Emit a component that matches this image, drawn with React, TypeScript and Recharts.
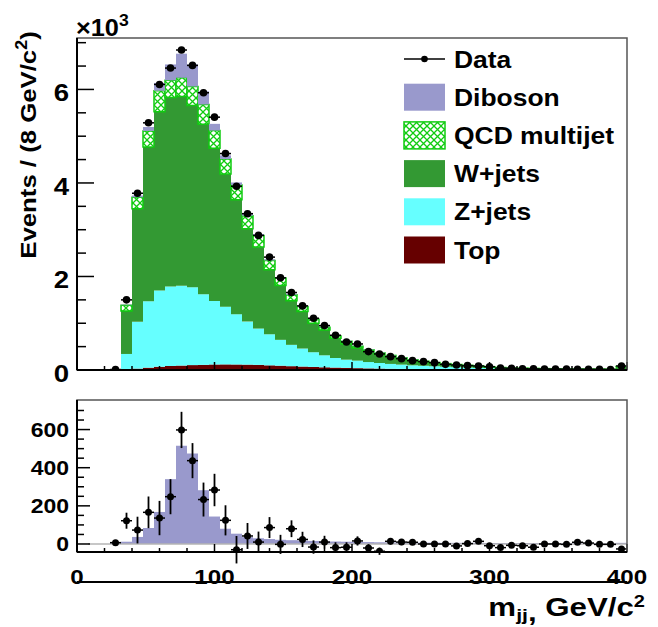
import React from 'react';
import { ComposedChart, Bar, Scatter, ErrorBar, XAxis, YAxis, ReferenceLine } from 'recharts';

// m_jj bin centres, 8 GeV bins from 0 to 400
const binCenter = [
  4, 12, 20, 28, 36, 44, 52, 60, 68, 76, 84, 92, 100, 108, 116, 124, 132, 140, 148, 156,
  164, 172, 180, 188, 196, 204, 212, 220, 228, 236, 244, 252, 260, 268, 276, 284, 292, 300, 308, 316,
  324, 332, 340, 348, 356, 364, 372, 380, 388, 396,
];
const halfBin = 4;

// stacked MC components (events / bin)
const topQuark = [
  0, 0, 0, 0, 10, 30, 50, 70, 85, 95, 105, 110, 118, 120, 118, 115, 110, 100, 92, 82,
  74, 66, 58, 52, 46, 40, 35, 31, 27, 23, 20, 17, 15, 13, 11, 10, 9, 8, 7, 6,
  5, 5, 4, 4, 4, 3, 3, 3, 3, 6,
];
const zJets = [
  0, 0, 0, 0, 333, 1000, 1420, 1630, 1700, 1705, 1665, 1510, 1360, 1235, 1075, 920, 776, 664, 553, 456,
  385, 314, 256, 205, 175, 160, 135, 119, 103, 92, 80, 73, 65, 57, 49, 42, 36, 32, 28, 24,
  21, 18, 16, 14, 12, 11, 9, 8, 7, 14,
];
const wJets = [
  0, 0, 0, 0, 921, 2421, 3300, 3821, 4040, 4050, 3886, 3636, 3264, 2835, 2450, 1985, 1743, 1379, 1164, 943,
  793, 621, 543, 422, 336, 270, 230, 190, 160, 130, 105, 85, 70, 58, 50, 42, 35, 22, 15, 12,
  10, 8, 7, 6, 5, 5, 5, 4, 3, 50,
];
const qcd = [
  0, 0, 0, 0, 122, 243, 343, 450, 370, 400, 407, 422, 378, 320, 314, 279, 250, 200, 157, 128,
  107, 86, 57, 50, 57, 40, 32, 26, 21, 17, 14, 12, 10, 8, 7, 6, 5, 4, 3, 3,
  2, 2, 2, 2, 2, 2, 2, 2, 2, 5,
];
const diboson = [
  0, 0, 0, 5, 12, 37, 84, 168, 340, 515, 474, 282, 144, 80, 54, 36, 30, 26, 22, 20,
  18, 16, 14, 13, 12, 11, 10, 9, 8, 8, 7, 7, 7, 6, 6, 6, 6, 5, 5, 5,
  5, 5, 5, 4, 4, 4, 4, 4, 4, 6,
];
const dataCounts = [
  null, null, null, 10, 1500, 3780, 5286, 6107, 6457, 6843, 6514, 5929, 5407, 4629, 3929, 3343, 2879, 2414, 1971, 1657,
  1371, 1107, 950, 743, 600, 557, 393, 343, 286, 243, 200, 179, 157, 121, 107, 93, 86, 71, 40, 36,
  28, 24, 22, 20, 18, 16, 15, 14, 12, 86,
];

// lower pad: data minus non-diboson background
const residual = [
  null, null, null, 7, 122, 73, 166, 136, 248, 598, 437, 233, 283, 124, -30, 42, 10, 86, -2, 80,
  24, -16, 10, -19, -17, 16, -21, -38, 14, 10, 9, 0, 0, 0, -10, 2, 14, -9, -19, -7,
  -9, -17, 0, 0, -2, 9, 5, -2, -2, -26,
];
const residualErr = [
  0, 0, 0, 5, 42, 70, 83, 90, 92, 95, 92, 89, 85, 79, 72, 68, 55, 55, 50, 44,
  40, 35, 33, 28, 26, 24, 20, 19, 17, 16, 14, 13, 12, 11, 10, 10, 9, 8, 6, 6,
  5, 5, 5, 4, 4, 4, 4, 4, 3, 9,
];

const xTicks = [0, 20, 40, 60, 80, 100, 120, 140, 160, 180, 200, 220, 240, 260, 280, 300, 320, 340, 360, 380, 400];
const yTicksTop = [0, 500, 1000, 1500, 2000, 2500, 3000, 3500, 4000, 4500, 5000, 5500, 6000, 6500, 7000];
const yTicksBot = [0, 50, 100, 150, 200, 250, 300, 350, 400, 450, 500, 550, 600, 650, 700];

const legendItems = [
  { name: 'Data', kind: 'data', color: '#000' },
  { name: 'Diboson', kind: 'box', color: '#9999cc' },
  { name: 'QCD multijet', kind: 'hatch', color: '#11cc11' },
  { name: 'W+jets', kind: 'box', color: '#339933' },
  { name: 'Z+jets', kind: 'box', color: '#66ffff' },
  { name: 'Top', kind: 'box', color: '#660000' },
];

const stackRows = binCenter.map((m, i) => ({
  m,
  top: topQuark[i],
  zjets: zJets[i],
  wjets: wJets[i],
  qcd: qcd[i],
  diboson: diboson[i],
}));
const dataRows = binCenter
  .map((m, i) => ({ m, n: dataCounts[i], xerr: halfBin }))
  .filter((r) => r.n !== null);
const residualRows = binCenter
  .map((m, i) => ({ m, r: residual[i], rerr: residualErr[i], xerr: halfBin }))
  .filter((r) => r.r !== null);

const FONT = '"Liberation Sans", Arial, Helvetica, sans-serif';
const SX = 1.15;
const W = 658;
const PL = 77;
const PR = 627;
// top pad (own svg coordinates = page coordinates)
const T_TOP = 38;
const T_BOT = 370;
const T_H = 392;
// bottom pad svg placed at page y = B_OFF
const B_OFF = 390;
const B_TOP = 10;
const B_BOT = 162;
const B_H = 237;

const Txt = ({ x, y, size, anchor = 'start', rotate = false, sx = SX, children }: any) => (
  <text
    transform={`translate(${x},${y})${rotate ? ' rotate(-90)' : ''} scale(${sx},1)`}
    textAnchor={anchor}
    fontSize={size}
    fontWeight="bold"
    fontFamily={FONT}
    fill="#000"
  >
    {children}
  </text>
);

const TopYTick = (props: any) => {
  const { y, payload } = props;
  const major = payload.value % 2000 === 0;
  return (
    <g>
      <line x1={PL} x2={PL + (major ? 17 : 9)} y1={y} y2={y} stroke="#000" strokeWidth={1.5} />
      {major && (
        <Txt x={PL - 8} y={y + 12} size={24} anchor="end">
          {payload.value / 1000}
        </Txt>
      )}
    </g>
  );
};

const BotYTick = (props: any) => {
  const { y, payload } = props;
  const major = payload.value % 200 === 0;
  return (
    <g>
      <line x1={PL} x2={PL + (major ? 13 : 7)} y1={y} y2={y} stroke="#000" strokeWidth={1.5} />
      {major && (
        <Txt x={PL - 8} y={y + 7.5} size={20} anchor="end">
          {payload.value}
        </Txt>
      )}
    </g>
  );
};

const xTick = (bottom: number, withLabel: boolean) => (props: any) => {
  const { x, payload } = props;
  const major = payload.value % 100 === 0;
  return (
    <g>
      <line x1={x} x2={x} y1={bottom} y2={bottom - (major ? 8 : 4)} stroke="#000" strokeWidth={1.5} />
      {withLabel && major && (
        <Txt x={x} y={194} size={21} anchor="middle">
          {payload.value}
        </Txt>
      )}
    </g>
  );
};

const dot = (r: number) => (props: any) => <circle cx={props.cx} cy={props.cy} r={r} fill="#000" />;

const Legend = () => (
  <g>
    {legendItems.map((it, i) => {
      const cy = 59 + i * 38.2;
      return (
        <g key={it.name}>
          {it.kind === 'data' && (
            <g>
              <line x1={404} x2={445} y1={cy} y2={cy} stroke="#000" strokeWidth={1.5} />
              <circle cx={424.5} cy={cy} r={3.3} fill="#000" />
            </g>
          )}
          {it.kind === 'box' && <rect x={404} y={cy - 13.5} width={41} height={27} fill={it.color} />}
          {it.kind === 'hatch' && (
            <rect x={404} y={cy - 13.5} width={41} height={27} fill="url(#qcdHatch)" stroke={it.color} strokeWidth={1.5} />
          )}
          <Txt x={454} y={cy + 8.5} size={23}>
            {it.name}
          </Txt>
        </g>
      );
    })}
  </g>
);

export default function App() {
  return (
    <div style={{ position: 'absolute', left: 0, top: 0, width: W, height: 627, background: '#fff', overflow: 'hidden' }}>
      <svg width={0} height={0} style={{ position: 'absolute' }}>
        <defs>
          <pattern id="qcdHatch" patternUnits="userSpaceOnUse" width={7} height={7}>
            <rect width={7} height={7} fill="#fff" />
            <path d="M0,0 L7,7 M7,0 L0,7" stroke="#11cc11" strokeWidth={1.3} />
          </pattern>
        </defs>
      </svg>

      <div style={{ position: 'absolute', left: 0, top: 0 }}>
        <ComposedChart
          width={W}
          height={T_H}
          data={stackRows}
          margin={{ top: T_TOP, right: W - PR, bottom: 0, left: 0 }}
          barCategoryGap={0}
          barGap={0}
        >
          <XAxis xAxisId="cat" dataKey="m" type="category" hide />
          <XAxis
            xAxisId="num"
            dataKey="m"
            type="number"
            domain={[0, 400]}
            allowDataOverflow
            ticks={xTicks}
            interval={0}
            tickLine={false}
            tick={xTick(T_BOT, false)}
            axisLine={{ stroke: '#000', strokeWidth: 2 }}
            height={T_H - T_BOT}
          />
          <YAxis
            type="number"
            domain={[0, 7100]}
            allowDataOverflow
            ticks={yTicksTop}
            interval={0}
            tickLine={false}
            tick={TopYTick}
            axisLine={{ stroke: '#000', strokeWidth: 2 }}
            width={PL}
          />
          <Bar xAxisId="cat" dataKey="top" stackId="s" fill="#660000" isAnimationActive={false} />
          <Bar xAxisId="cat" dataKey="zjets" stackId="s" fill="#66ffff" isAnimationActive={false} />
          <Bar xAxisId="cat" dataKey="wjets" stackId="s" fill="#339933" isAnimationActive={false} />
          <Bar xAxisId="cat" dataKey="qcd" stackId="s" fill="url(#qcdHatch)" stroke="#11cc11" strokeWidth={1.5} isAnimationActive={false} />
          <Bar xAxisId="cat" dataKey="diboson" stackId="s" fill="#9999cc" isAnimationActive={false} />
          <Scatter xAxisId="num" data={dataRows} dataKey="n" shape={dot(3.8)} isAnimationActive={false}>
            <ErrorBar dataKey="xerr" direction="x" width={0} stroke="#000" strokeWidth={1.5} />
          </Scatter>
        </ComposedChart>
      </div>

      <div style={{ position: 'absolute', left: 0, top: B_OFF }}>
        <ComposedChart
          width={W}
          height={B_H}
          data={stackRows}
          margin={{ top: B_TOP, right: W - PR, bottom: 0, left: 0 }}
          barCategoryGap={0}
          barGap={0}
        >
          <XAxis xAxisId="cat" dataKey="m" type="category" hide />
          <XAxis
            xAxisId="num"
            dataKey="m"
            type="number"
            domain={[0, 400]}
            allowDataOverflow
            ticks={xTicks}
            interval={0}
            tickLine={false}
            tick={xTick(B_BOT, true)}
            axisLine={{ stroke: '#000', strokeWidth: 2 }}
            height={B_H - B_BOT}
          />
          <YAxis
            type="number"
            domain={[-42, 755]}
            allowDataOverflow
            ticks={yTicksBot}
            interval={0}
            tickLine={false}
            tick={BotYTick}
            axisLine={{ stroke: '#000', strokeWidth: 2 }}
            width={PL}
          />
          <Bar xAxisId="cat" dataKey="diboson" fill="#9999cc" isAnimationActive={false} />
          <ReferenceLine
            xAxisId="num"
            segment={[{ x: 8, y: 0 }, { x: 400, y: 0 }]}
            stroke="#b4b4b4"
            strokeWidth={1.5}
          />
          <Scatter xAxisId="num" data={residualRows} dataKey="r" shape={dot(3.5)} isAnimationActive={false}>
            <ErrorBar dataKey="rerr" direction="y" width={0} stroke="#000" strokeWidth={1.8} />
            <ErrorBar dataKey="xerr" direction="x" width={0} stroke="#000" strokeWidth={1.5} />
          </Scatter>
        </ComposedChart>
      </div>

      <svg width={W} height={627} style={{ position: 'absolute', left: 0, top: 0, pointerEvents: 'none' }}>
        <rect x={PL} y={T_TOP} width={PR - PL} height={T_BOT - T_TOP} fill="none" stroke="#555" strokeWidth={1.5} />
        <rect x={PL} y={B_OFF + B_TOP} width={PR - PL} height={B_BOT - B_TOP} fill="none" stroke="#555" strokeWidth={1.5} />
        <line x1={PL} x2={PL} y1={T_TOP} y2={T_BOT} stroke="#000" strokeWidth={2} />
        <line x1={PL} x2={PR} y1={T_BOT} y2={T_BOT} stroke="#000" strokeWidth={2} />
        <line x1={PL} x2={PL} y1={B_OFF + B_TOP} y2={B_OFF + B_BOT} stroke="#000" strokeWidth={2} />
        <line x1={PL} x2={PR} y1={B_OFF + B_BOT} y2={B_OFF + B_BOT} stroke="#000" strokeWidth={2} />
        <Legend />
        <Txt x={76} y={36} size={23} sx={1.1}>
          ×10<tspan fontSize={16} dy={-10}>3</tspan>
        </Txt>
        <Txt x={36} y={145} size={23} anchor="middle" rotate sx={1.12}>
          Events / (8 GeV/c<tspan fontSize={16} dy={-9}>2</tspan>
          <tspan dy={9}>)</tspan>
        </Txt>
        <Txt x={645} y={616} size={25} anchor="end" sx={1.25}>
          m<tspan fontSize={17} dy={5}>jj</tspan>
          <tspan dy={0}>,</tspan>
          <tspan dy={-5}> GeV/c</tspan>
          <tspan fontSize={16} dy={-9}>2</tspan>
        </Txt>
      </svg>
    </div>
  );
}
